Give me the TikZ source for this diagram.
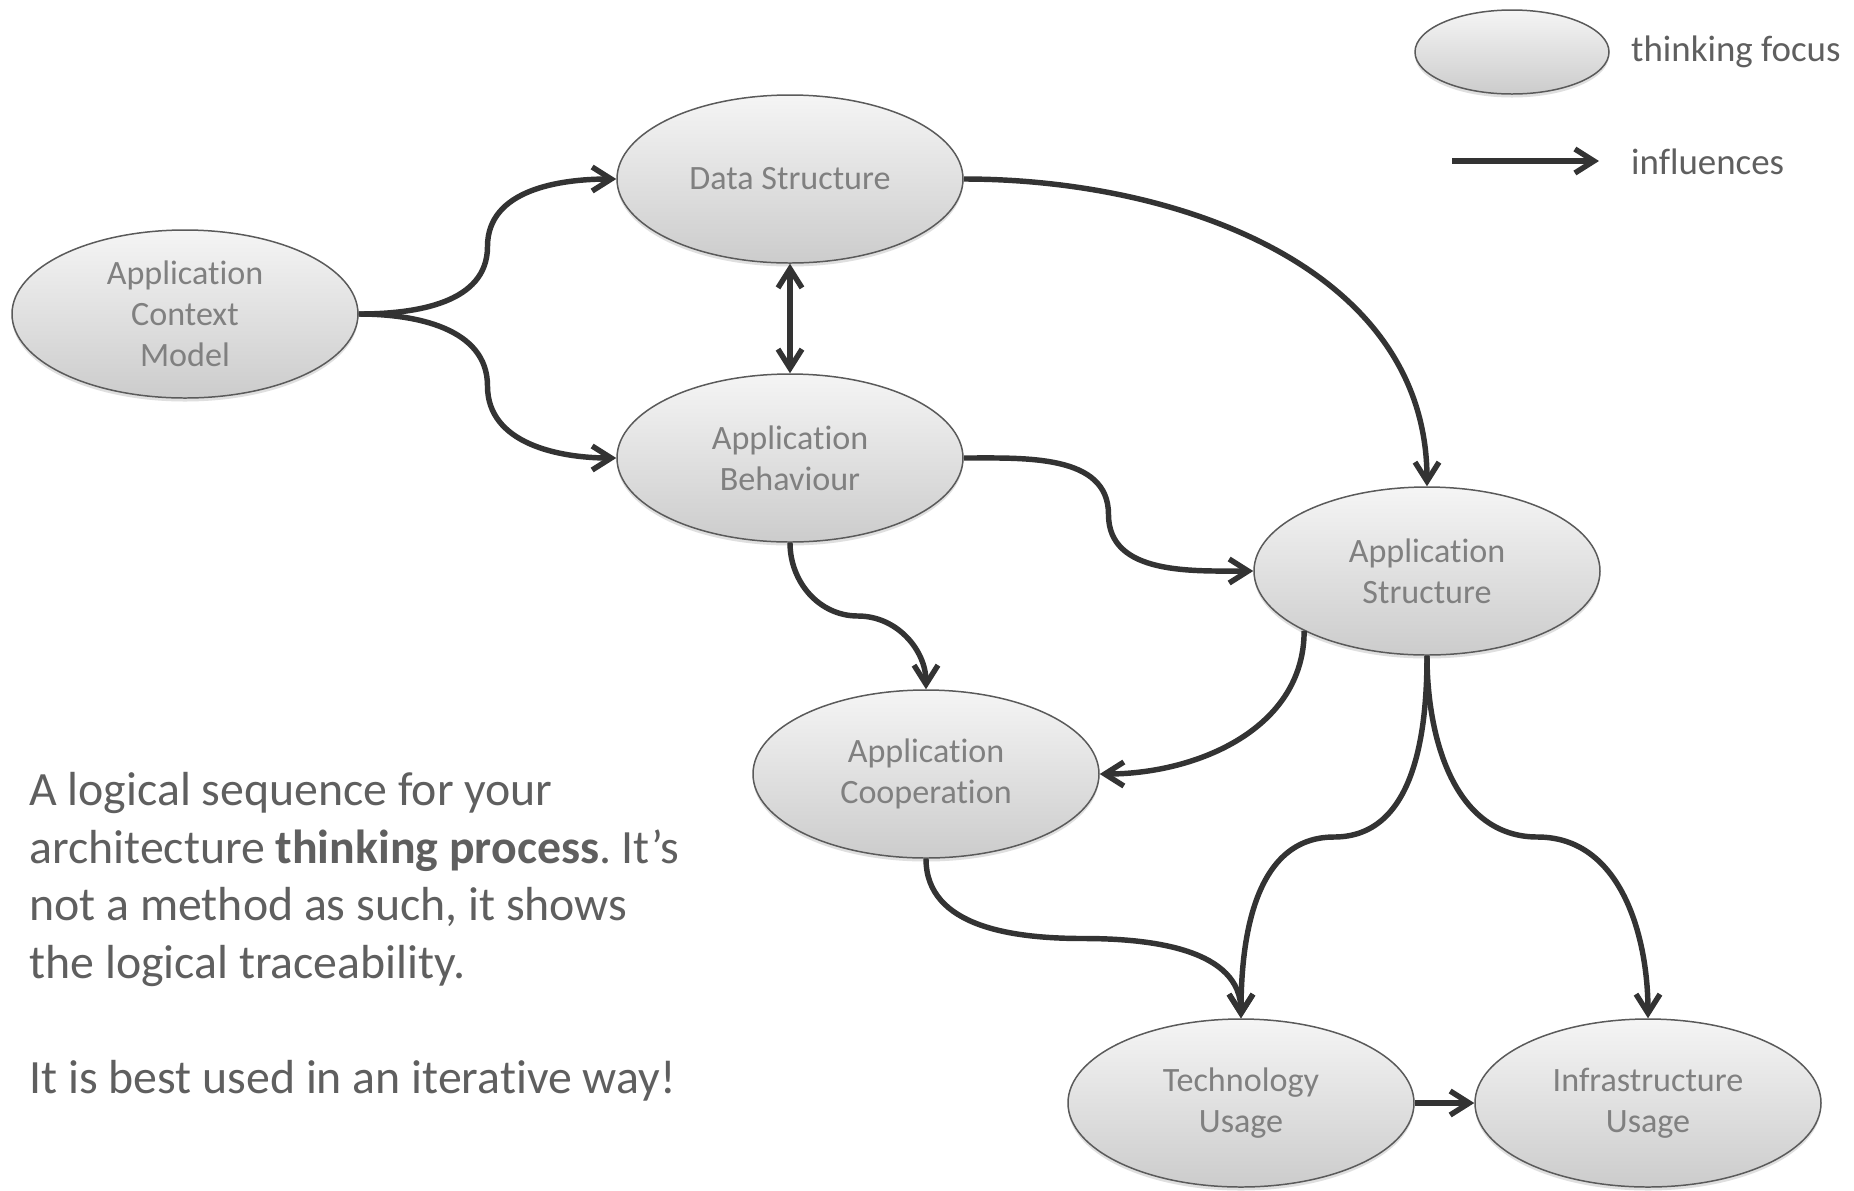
\documentclass[tikz,border=0pt]{standalone}
\usepackage{fontspec}
\setmainfont{Carlito}[Ligatures=NoCommon]
\usepackage{tikz}
\usetikzlibrary{shapes,arrows.meta,shadows,positioning,calc}
\frenchspacing

\definecolor{rimgray}{HTML}{5A5A5A}
\definecolor{linkgray}{HTML}{333333}
\definecolor{labelgray}{HTML}{808080}
\definecolor{notegray}{HTML}{5F5F5F}

\tikzstyle{focus} = [ellipse, minimum width=6.92cm, minimum height=3.36cm, inner sep=0pt,
align=center, draw=rimgray, line width=0.85pt, top color=gray!8, bottom color=gray!40,
text=labelgray, font=\fontsize{19.4}{23.3}\selectfont,
drop shadow={shadow xshift=0pt, shadow yshift=-0.07cm, opacity=0.25}]
\tikzstyle{influence} = [draw=linkgray, line width=3.1pt, ->]

\begin{document}
\begin{tikzpicture}[>={Straight Barb[length=3.8mm,width=4.8mm]}]
            \fill[white] (0,0) rectangle (37.08,-23.8);
            \useasboundingbox (0,0) rectangle (37.08,-23.8);

            \node(ctxmodel) [focus] at (3.70,-6.28) {Application\\Context\\Model};
            \node(datastruct) [focus] at (15.80,-3.58) {Data Structure};
            \node(appbehav) [focus, below of=datastruct, node distance=5.58cm] {Application\\Behaviour};
            \node(appstruct) [focus] at (28.54,-11.42) {Application\\Structure};
            \node(appcoop) [focus] at (18.52,-15.48) {Application\\Cooperation};
            \node(techusage) [focus] at (24.82,-22.06) {Technology\\Usage};
            \node(infrausage) [focus, right of=techusage, node distance=8.14cm] {Infrastructure\\Usage};

            % Legend
            \node(legfocus) [focus, minimum width=3.88cm, minimum height=1.68cm] at (30.24,-1.04) {};
            \node(legfocustext) [anchor=west, text=notegray, font=\fontsize{21}{25}\selectfont] at (32.5,-1.03) {thinking focus};
            \node(leginfltext) [anchor=west, text=notegray, font=\fontsize{21}{25}\selectfont] at (32.5,-3.24) {influences};
            \coordinate (legstart) at (29.04,-3.22);
            \coordinate (legend) at (31.98,-3.22);
            \draw[influence] (legstart) -- (legend);

            % Note
            \node(note) [anchor=base west, align=left, inner sep=0pt, text=notegray,
                font=\fontsize{27.2}{32.7}\selectfont] at (0.58,-21.86)
                {A logical sequence for your\\architecture \textbf{thinking process}. It’s\\not a method as such, it shows\\the logical traceability.\\[32.7pt]It is best used in an iterative way!};

            % Draw Lines
            \draw[influence] (ctxmodel.east) to[out=0,in=-90] ($(ctxmodel.east)!.5!(datastruct.west)$) to[out=90,in=180] (datastruct.west);
            \draw[influence] (ctxmodel.east) to[out=0,in=90] ($(ctxmodel.east)!.5!(appbehav.west)$) to[out=-90,in=180] (appbehav.west);
            \draw[influence, <->] (datastruct.south) -- (appbehav.north);
            \draw[influence] (datastruct.east) to[out=0,in=90] (appstruct.north);
            \draw[influence] (appbehav.east) to[out=0,in=90] ($(appbehav.east)!.5!(appstruct.west)$) to[out=-90,in=180] (appstruct.west);
            \draw[influence] (appbehav.south) to[out=-90,in=180] ($(appbehav.south)!.5!(appcoop.north)$) to[out=0,in=90] (appcoop.north);
            \draw[influence] (appstruct.206) to[out=-90,in=0] (appcoop.east);
            \draw[influence] (appcoop.south) to[out=-90,in=180] ($(appcoop.south)!.5!(techusage.north)$) to[out=0,in=90] (techusage.north);
            \draw[influence] (appstruct.south) to[out=-90,in=0] ($(appstruct.south)!.5!(techusage.north)$) to[out=180,in=90] (techusage.north);
            \draw[influence] (appstruct.south) to[out=-90,in=180] ($(appstruct.south)!.5!(infrausage.north)$) to[out=0,in=90] (infrausage.north);
            \draw[influence] (techusage.east) -- (infrausage.west);
\end{tikzpicture}
\end{document}
